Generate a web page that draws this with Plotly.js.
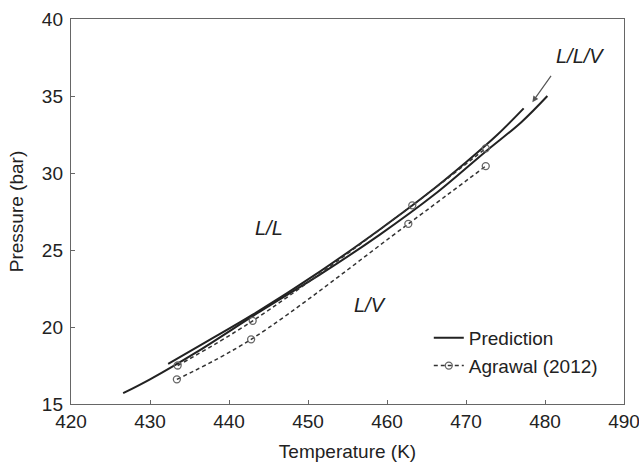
<!DOCTYPE html>
<html>
<head>
<meta charset="utf-8">
<script src="https://cdn.plot.ly/plotly-3.0.1.min.js"></script>
<style>html,body{margin:0;padding:0;background:#fff}#chart{width:639px;height:462px}</style>
</head>
<body>
<div id="chart"></div>
<script>
// Prediction (long branch)
const predA_T = [426.6, 430.0, 436.0, 443.9, 451.5, 459.1, 466.0, 472.5, 477.0, 480.3];
const predA_P = [15.7, 16.6, 18.4, 21.0, 23.4, 26.0, 28.6, 31.4, 33.3, 35.0];
// Prediction (short branch)
const predB_T = [432.3, 437.0, 443.0, 451.5, 459.0, 465.0, 470.0, 474.0, 477.3];
const predB_P = [17.6, 19.0, 20.8, 23.6, 26.3, 28.6, 30.7, 32.5, 34.2];
// Agrawal (2012), upper set
const agrU_T = [433.5, 443.0, 463.2, 472.5];
const agrU_P = [17.5, 20.4, 27.9, 31.6];
// Agrawal (2012), lower set
const agrL_T = [433.4, 442.8, 462.7, 472.5];
const agrL_P = [16.6, 19.2, 26.7, 30.45];

const xTicks = [420, 430, 440, 450, 460, 470, 480, 490];
const yTicks = [15, 20, 25, 30, 35, 40];

const lineCol = '#222';
const dashCol = '#333';
const fam = 'Liberation Sans, Arial, sans-serif';
const font = {family: fam, size: 19, color: '#222'};
const legFont = {family: fam, size: 19, color: '#222'};
const annFont = {family: fam, size: 20, color: '#222'};

const traces = [
  {x: predA_T, y: predA_P, mode: 'lines', name: 'Prediction', line: {color: lineCol, width: 2, shape: 'spline'}, showlegend: true, legendgroup: 'p'},
  {x: predB_T, y: predB_P, mode: 'lines', name: 'Prediction', line: {color: lineCol, width: 2, shape: 'spline'}, showlegend: false, legendgroup: 'p'},
  {x: agrU_T, y: agrU_P, mode: 'lines+markers', name: 'Agrawal (2012)', line: {color: dashCol, width: 1.5, dash: '4px,3px', shape: 'spline'},
   marker: {symbol: 'circle-open', size: 7, color: '#666', line: {width: 1.3}}, showlegend: true, legendgroup: 'a'},
  {x: agrL_T, y: agrL_P, mode: 'lines+markers', name: 'Agrawal (2012)', line: {color: dashCol, width: 1.5, dash: '4px,3px', shape: 'spline'},
   marker: {symbol: 'circle-open', size: 7, color: '#666', line: {width: 1.3}}, showlegend: false, legendgroup: 'a'}
];

const axisCommon = {
  showgrid: false, zeroline: false, showline: true, linecolor: '#666', linewidth: 1.2,
  mirror: true, ticks: 'inside', ticklen: 4, tickcolor: '#666', tickfont: font,
  ticklabeloverflow: 'allow'
};

const layout = {
  width: 639, height: 462,
  margin: {l: 71, r: 15, t: 19, b: 58},
  paper_bgcolor: '#fff', plot_bgcolor: '#fff',
  font: font,
  showlegend: true,
  legend: {x: 0.647, y: 0.135, xanchor: 'left', yanchor: 'middle', bgcolor: 'rgba(0,0,0,0)', font: legFont, tracegroupgap: 0, itemwidth: 30},
  xaxis: Object.assign({}, axisCommon, {range: [420, 490], tickvals: xTicks, ticktext: xTicks.map(String),
    title: {text: 'Temperature (K)', font: font, standoff: 13}}),
  yaxis: Object.assign({}, axisCommon, {range: [15, 40], tickvals: yTicks, ticktext: yTicks.map(String),
    ticklabelstandoff: 3,
    title: {text: 'Pressure (bar)', font: font, standoff: 13}}),
  annotations: [
    {x: 445, y: 26.4, text: '<i>L/L</i>', showarrow: false, font: annFont},
    {x: 457.8, y: 21.4, text: '<i>L/V</i>', showarrow: false, font: annFont},
    {x: 484.4, y: 37.6, text: '<i>L/L/V</i>', showarrow: false, font: annFont},
    {x: 478.4, y: 34.6, ax: 480.9, ay: 36.4, axref: 'x', ayref: 'y', xref: 'x', yref: 'y', text: '',
     showarrow: true, arrowhead: 2, arrowsize: 1, arrowwidth: 1.2, arrowcolor: '#555'}
  ]
};

Plotly.newPlot('chart', traces, layout, {displayModeBar: false, staticPlot: true});
</script>
</body>
</html>
